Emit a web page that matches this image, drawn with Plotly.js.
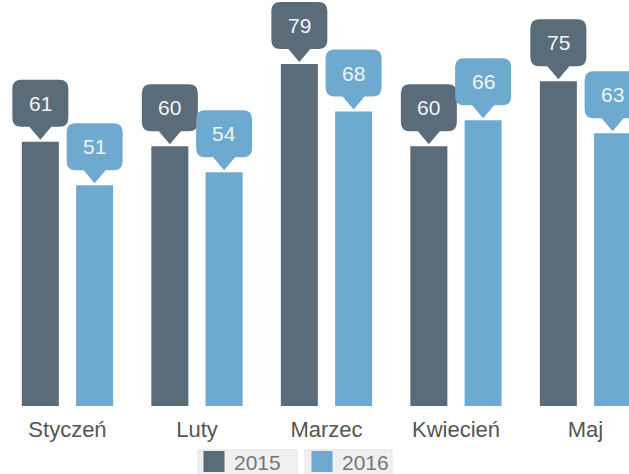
<!DOCTYPE html>
<html>
<head>
<meta charset="utf-8">
<script src="https://cdn.plot.ly/plotly-3.0.1.min.js"></script>
<style>html,body{margin:0;padding:0;background:#fff;}#chart{width:629px;height:474px;}</style>
</head>
<body>
<div id="chart"></div>
<script>
const categories = ["Styczeń", "Luty", "Marzec", "Kwiecień", "Maj"];
const seriesNames = ["2015", "2016"];
const values2015 = [61, 60, 79, 60, 75];
const values2016 = [51, 54, 68, 66, 63];
const seriesColors = ["#5a6b79", "#6ea9cf"];

const BARGAP = 0.162;
const GROUPGAP = 0.318;
const offset = (1 - BARGAP) / 4;

const allSeries = [values2015, values2016];

const traces = allSeries.map((vals, s) => ({
  type: "bar",
  name: seriesNames[s],
  x: categories,
  y: vals,
  marker: { color: seriesColors[s] },
  showlegend: false,
  hoverinfo: "skip"
}));

// legend-only traces for larger square keys
seriesNames.forEach((n, s) => {
  traces.push({
    type: "scatter",
    mode: "markers",
    name: n,
    x: [null],
    y: [null],
    marker: { symbol: "square", size: 16, color: seriesColors[s], line: { color: seriesColors[s], width: 5 } },
    showlegend: true,
    hoverinfo: "skip"
  });
});

// Callout bubble path (pixel offsets, y up)
const hw = 28, th = 13, tw = 11, bh = 47, r = 9, tip = 2;
const yb = tip + th, yt = yb + bh;
const bubblePath =
  `M0,${tip} L${-tw},${yb} L${-hw + r},${yb} Q${-hw},${yb} ${-hw},${yb + r} ` +
  `L${-hw},${yt - r} Q${-hw},${yt} ${-hw + r},${yt} L${hw - r},${yt} Q${hw},${yt} ${hw},${yt - r} ` +
  `L${hw},${yb + r} Q${hw},${yb} ${hw - r},${yb} L${tw},${yb} Z`;

const shapes = [];
const annotations = [];
allSeries.forEach((vals, s) => {
  const dx = s === 0 ? -offset : offset;
  vals.forEach((v, i) => {
    shapes.push({
      type: "path", xref: "x", yref: "y",
      xsizemode: "pixel", ysizemode: "pixel",
      xanchor: i + dx, yanchor: v,
      path: bubblePath,
      fillcolor: seriesColors[s], line: { width: 0 }, layer: "above"
    });
    annotations.push({
      xref: "x", yref: "y", x: i + dx, y: v,
      text: String(v), showarrow: false,
      yshift: yb + bh / 2, yanchor: "middle", xanchor: "center",
      font: { family: "Liberation Sans, Arial, sans-serif", size: 21, color: "#f2f5f7" }
    });
  });
});

// legend boxes
shapes.push({ type: "rect", xref: "paper", yref: "paper", x0: 198/629, x1: 297/629, y0: -0.2, y1: -0.108,
  fillcolor: "#f0f0f0", line: { color: "#e2e2e2", width: 1 }, layer: "below" });
shapes.push({ type: "rect", xref: "paper", yref: "paper", x0: 305/629, x1: 392/629, y0: -0.2, y1: -0.108,
  fillcolor: "#f0f0f0", line: { color: "#e2e2e2", width: 1 }, layer: "below" });

const layout = {
  width: 629, height: 474,
  margin: { l: 0, r: 0, t: 0, b: 68 },
  paper_bgcolor: "#ffffff", plot_bgcolor: "#ffffff",
  barmode: "group", bargap: BARGAP, bargroupgap: GROUPGAP,
  font: { family: "Liberation Sans, Arial, sans-serif" },
  xaxis: {
    type: "category", range: [-0.521, 4.336], automargin: false,
    showgrid: false, zeroline: false, showline: false,
    ticks: "outside", ticklen: 4, tickcolor: "rgba(0,0,0,0)",
    tickfont: { size: 22, color: "#555555" }
  },
  yaxis: { range: [0, 93.76], visible: false, showgrid: false, zeroline: false, automargin: false },
  showlegend: true,
  legend: {
    orientation: "h", xref: "container", yref: "container",
    x: 194 / 629, xanchor: "left", y: 0.069, yanchor: "top",
    entrywidth: 63,
    bgcolor: "rgba(0,0,0,0)", font: { size: 21, color: "#777777" },
    itemclick: false, itemdoubleclick: false
  },
  shapes: shapes,
  annotations: annotations
};

Plotly.newPlot("chart", traces, layout, { displayModeBar: false, staticPlot: true });
</script>
</body>
</html>
